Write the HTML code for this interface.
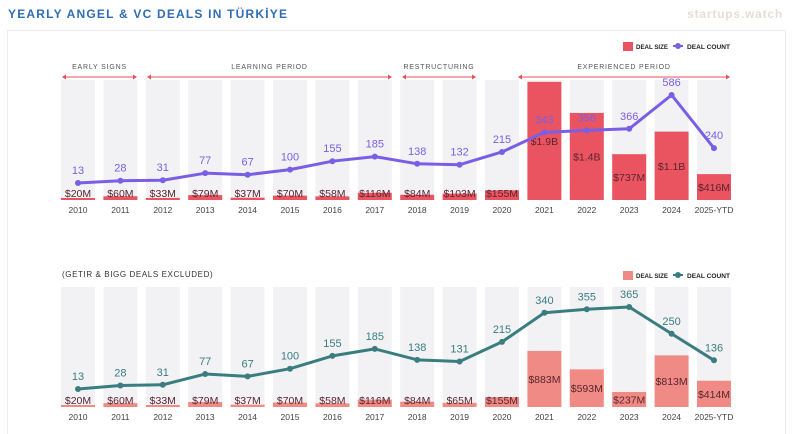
<!DOCTYPE html>
<html><head><meta charset="utf-8">
<style>
body{margin:0;background:#fff;width:792px;height:434px;overflow:hidden;font-family:"Liberation Sans",sans-serif}
svg{display:block}
</style></head>
<body>
<svg id="c" width="792" height="434">
<text x="8" y="18" font-size="12" font-weight="bold" fill="#2f6db5" letter-spacing="1.2">YEARLY ANGEL &amp; VC DEALS IN TÜRKİYE</text>
<text x="783" y="18" font-size="12" font-weight="bold" fill="#e8dcd8" text-anchor="end" letter-spacing="0.8">startups.watch</text>
<rect x="7.5" y="30.5" width="778" height="410" fill="none" stroke="#ececec"/>
<text x="62" y="277" font-size="8" fill="#333" letter-spacing="0.6">(GETIR &amp; BIGG DEALS EXCLUDED)</text>
</svg>
<script>
const years=["2010","2011","2012","2013","2014","2015","2016","2017","2018","2019","2020","2021","2022","2023","2024","2025-YTD"];
const sizeTop=[20,60,33,79,37,70,58,116,84,103,155,1900,1400,737,1100,416];
const sizeTopLabels=["$20M","$60M","$33M","$79M","$37M","$70M","$58M","$116M","$84M","$103M","$155M","$1.9B","$1.4B","$737M","$1.1B","$416M"];
const countTop=[13,28,31,77,67,100,155,185,138,132,215,343,356,366,586,240];
const sizeBot=[20,60,33,79,37,70,58,116,84,65,155,883,593,237,813,414];
const sizeBotLabels=["$20M","$60M","$33M","$79M","$37M","$70M","$58M","$116M","$84M","$65M","$155M","$883M","$593M","$237M","$813M","$414M"];
const countBot=[13,28,31,77,67,100,155,185,138,131,215,340,355,365,250,136];
const periods=[["EARLY SIGNS",62,137],["LEARNING PERIOD",147,392],["RESTRUCTURING",402,476],["EXPERIENCED PERIOD",518,730]];

const svg=document.getElementById('c');
const NS="http://www.w3.org/2000/svg";
function mk(t,a){const e=document.createElementNS(NS,t);for(const k in a)e.setAttribute(k,a[k]);svg.appendChild(e);return e;}
const xc=i=>78+i*42.4;
const BW=34;

function panel(p){
  const {base,top,sizes,labels,counts,barCol,lineCol,sMax,cY,legY,name}=p;
  const h=base-top;
  years.forEach((y,i)=>{
    const bg=mk('rect',{x:xc(i)-BW/2,y:top,width:BW,height:h,fill:'#f2f2f4'});
    
    
    const bh=Math.max(2,sizes[i]/sMax*h);
    const b=mk('rect',{x:xc(i)-BW/2,y:base-bh,width:BW,height:bh,fill:barCol});
    
    
    const ly=Math.min(base-bh/2,base-7);
    const t=mk('text',{x:xc(i),y:ly+4,'font-size':10.5,fill:'#5a2530','text-anchor':'middle'});
    t.textContent=labels[i];
    
    
    const yl=mk('text',{x:xc(i),y:base+13,'font-size':8.5,fill:'#444','text-anchor':'middle'});
    yl.textContent=y;
    
    
  });
  const pts=counts.map((c,i)=>[xc(i),cY(c)]);
  const pl=mk('polyline',{points:pts.map(p=>p.join(',')).join(' '),fill:'none',stroke:lineCol,'stroke-width':3,'stroke-linejoin':'round'});
  
  
  pts.forEach((pt,i)=>{
    const d=mk('circle',{cx:pt[0],cy:pt[1],r:3,fill:lineCol});
    
    
    const t=mk('text',{x:pt[0],y:pt[1]-9,'font-size':11,fill:lineCol,'text-anchor':'middle'});
    t.textContent=counts[i];
    
    
  });
  const ls=mk('rect',{x:623,y:legY-4,width:10,height:9,fill:barCol});
  
  
  const lt=mk('text',{x:636,y:legY+3,'font-size':6.5,'font-weight':'bold',fill:'#222',textLength:32,lengthAdjust:'spacingAndGlyphs'});
  lt.textContent='DEAL SIZE';
  
  
  const ll=mk('line',{x1:673,x2:683,y1:legY,y2:legY,stroke:lineCol,'stroke-width':2});
  
  
  const lc=mk('circle',{cx:678,cy:legY,r:3,fill:lineCol});
  
  
  const lt2=mk('text',{x:687,y:legY+3,'font-size':6.5,'font-weight':'bold',fill:'#222',textLength:43,lengthAdjust:'spacingAndGlyphs'});
  lt2.textContent='DEAL COUNT';
  
  
}

periods.forEach(([lab,x1,x2])=>{
  const t=mk('text',{x:(x1+x2)/2,y:69,'font-size':7,fill:'#555','text-anchor':'middle','letter-spacing':0.8});
  t.textContent=lab;
  
  
  const l=mk('line',{x1:x1+2,x2:x2-2,y1:77,y2:77,stroke:'#e8505b','stroke-width':1});
  
  
  mk('path',{d:`M${x1},77 l4,-2.5 v5 z M${x2},77 l-4,-2.5 v5 z`,fill:'#e8505b'});
});

panel({name:'top',base:200,top:80,sizes:sizeTop,labels:sizeTopLabels,counts:countTop,barCol:'#ea5461',lineCol:'#7a5ee6',sMax:1930,cY:c=>185-c*0.1536,legY:46});
panel({name:'bottom',base:407,top:287,sizes:sizeBot,labels:sizeBotLabels,counts:countBot,barCol:'#f08a84',lineCol:'#3a7d80',sMax:1890,cY:c=>392-c*0.233,legY:275});
</script>
</body></html>
